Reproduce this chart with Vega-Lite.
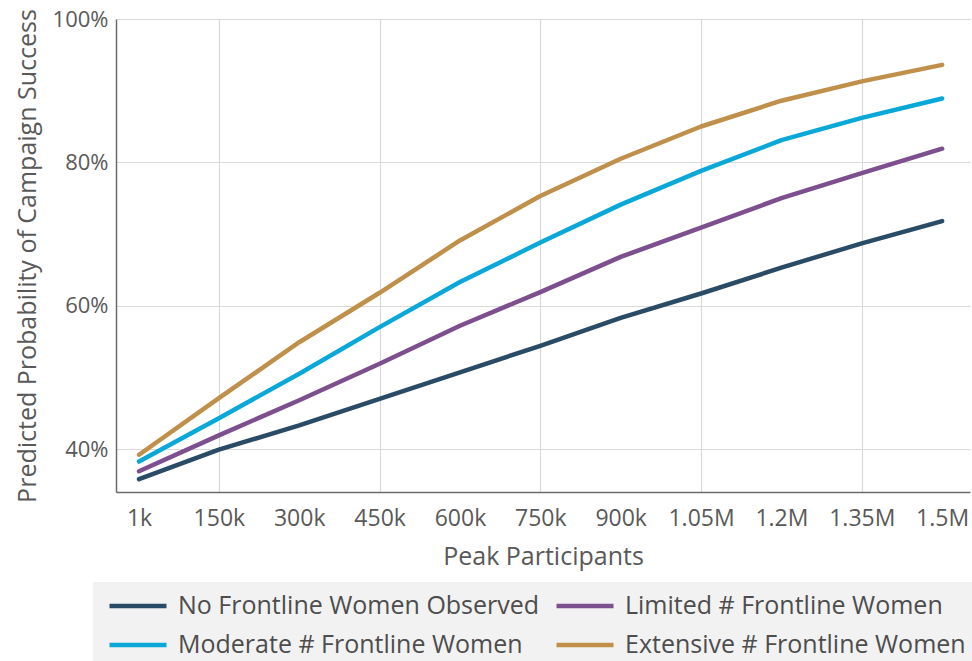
{
  "$schema": "https://vega.github.io/schema/vega-lite/v6.json",
  "autosize": {"type": "none"},
  "padding": {"left": 116, "top": 19, "right": 2, "bottom": 169},
  "width": 854,
  "height": 473,
  "background": "white",
  "config": {
    "font": "Open Sans",
    "view": {"stroke": null}
  },
  "data": {
    "values": [
      {"p": 1, "group": "No Frontline Women Observed", "prob": 0.358},
      {"p": 150, "group": "No Frontline Women Observed", "prob": 0.399},
      {"p": 300, "group": "No Frontline Women Observed", "prob": 0.433},
      {"p": 450, "group": "No Frontline Women Observed", "prob": 0.470},
      {"p": 600, "group": "No Frontline Women Observed", "prob": 0.507},
      {"p": 750, "group": "No Frontline Women Observed", "prob": 0.544},
      {"p": 900, "group": "No Frontline Women Observed", "prob": 0.583},
      {"p": 1050, "group": "No Frontline Women Observed", "prob": 0.617},
      {"p": 1200, "group": "No Frontline Women Observed", "prob": 0.653},
      {"p": 1350, "group": "No Frontline Women Observed", "prob": 0.687},
      {"p": 1500, "group": "No Frontline Women Observed", "prob": 0.718},
      {"p": 1, "group": "Limited # Frontline Women", "prob": 0.369},
      {"p": 150, "group": "Limited # Frontline Women", "prob": 0.419},
      {"p": 300, "group": "Limited # Frontline Women", "prob": 0.468},
      {"p": 450, "group": "Limited # Frontline Women", "prob": 0.519},
      {"p": 600, "group": "Limited # Frontline Women", "prob": 0.572},
      {"p": 750, "group": "Limited # Frontline Women", "prob": 0.619},
      {"p": 900, "group": "Limited # Frontline Women", "prob": 0.668},
      {"p": 1050, "group": "Limited # Frontline Women", "prob": 0.709},
      {"p": 1200, "group": "Limited # Frontline Women", "prob": 0.750},
      {"p": 1350, "group": "Limited # Frontline Women", "prob": 0.785},
      {"p": 1500, "group": "Limited # Frontline Women", "prob": 0.819},
      {"p": 1, "group": "Moderate # Frontline Women", "prob": 0.3825},
      {"p": 150, "group": "Moderate # Frontline Women", "prob": 0.443},
      {"p": 300, "group": "Moderate # Frontline Women", "prob": 0.505},
      {"p": 450, "group": "Moderate # Frontline Women", "prob": 0.570},
      {"p": 600, "group": "Moderate # Frontline Women", "prob": 0.633},
      {"p": 750, "group": "Moderate # Frontline Women", "prob": 0.688},
      {"p": 900, "group": "Moderate # Frontline Women", "prob": 0.741},
      {"p": 1050, "group": "Moderate # Frontline Women", "prob": 0.788},
      {"p": 1200, "group": "Moderate # Frontline Women", "prob": 0.831},
      {"p": 1350, "group": "Moderate # Frontline Women", "prob": 0.862},
      {"p": 1500, "group": "Moderate # Frontline Women", "prob": 0.889},
      {"p": 1, "group": "Extensive # Frontline Women", "prob": 0.392},
      {"p": 150, "group": "Extensive # Frontline Women", "prob": 0.471},
      {"p": 300, "group": "Extensive # Frontline Women", "prob": 0.549},
      {"p": 450, "group": "Extensive # Frontline Women", "prob": 0.618},
      {"p": 600, "group": "Extensive # Frontline Women", "prob": 0.691},
      {"p": 750, "group": "Extensive # Frontline Women", "prob": 0.753},
      {"p": 900, "group": "Extensive # Frontline Women", "prob": 0.805},
      {"p": 1050, "group": "Extensive # Frontline Women", "prob": 0.850},
      {"p": 1200, "group": "Extensive # Frontline Women", "prob": 0.886},
      {"p": 1350, "group": "Extensive # Frontline Women", "prob": 0.913},
      {"p": 1500, "group": "Extensive # Frontline Women", "prob": 0.936}
    ]
  },
  "mark": {"type": "line", "strokeWidth": 4.5, "strokeCap": "round", "strokeJoin": "round"},
  "encoding": {
    "x": {
      "field": "p",
      "type": "quantitative",
      "scale": {"domain": [-42, 1552], "nice": false, "zero": false},
      "axis": {
        "title": "Peak Participants",
        "values": [1, 150, 300, 450, 600, 750, 900, 1050, 1200, 1350, 1500],
        "labelExpr": "datum.value === 1 ? '1k' : (datum.value < 1000 ? datum.value + 'k' : (datum.value / 1000) + 'M')",
        "labelFontSize": 23,
        "labelColor": "#595959",
        "labelPadding": 15,
        "labelFlush": false,
        "labelOverlap": false,
        "ticks": false,
        "domainColor": "#6b6b6b",
        "domainWidth": 1.5,
        "grid": true,
        "gridColor": "#d9d9d9",
        "gridWidth": 1.2,
        "gridOpacity": {"condition": {"test": "datum.value % 300 === 150", "value": 1}, "value": 0},
        "titleFontSize": 25,
        "titleFontWeight": "normal",
        "titleColor": "#595959",
        "titlePadding": 14
      }
    },
    "y": {
      "field": "prob",
      "type": "quantitative",
      "scale": {"domain": [0.34, 1.0], "nice": false, "zero": false},
      "axis": {
        "title": "Predicted Probability of Campaign Success",
        "values": [0.4, 0.6, 0.8, 1.0],
        "format": ".0%",
        "labelFontSize": 22,
        "labelColor": "#595959",
        "labelPadding": 8,
        "ticks": false,
        "domainColor": "#6b6b6b",
        "domainWidth": 1.5,
        "grid": true,
        "gridColor": "#d9d9d9",
        "gridWidth": 1.2,
        "titleFontSize": 25,
        "titleFontWeight": "normal",
        "titleColor": "#595959",
        "titlePadding": 12
      }
    },
    "color": {
      "field": "group",
      "type": "nominal",
      "scale": {
        "domain": ["No Frontline Women Observed", "Moderate # Frontline Women", "Limited # Frontline Women", "Extensive # Frontline Women"],
        "range": ["#2a4b66", "#0aa8d8", "#7d4f8f", "#c0904a"]
      },
      "legend": {
        "title": null,
        "orient": "none",
        "legendX": -23,
        "legendY": 563,
        "columns": 2,
        "fillColor": "#f2f2f2",
        "padding": 14,
        "symbolType": "stroke",
        "symbolSize": 3249,
        "symbolStrokeWidth": 4.5,
        "clipHeight": 20,
        "rowPadding": 14,
        "columnPadding": 14,
        "labelFontSize": 25,
        "labelColor": "#4d4d4d",
        "labelOffset": 9,
        "labelLimit": 500
      }
    }
  }
}
